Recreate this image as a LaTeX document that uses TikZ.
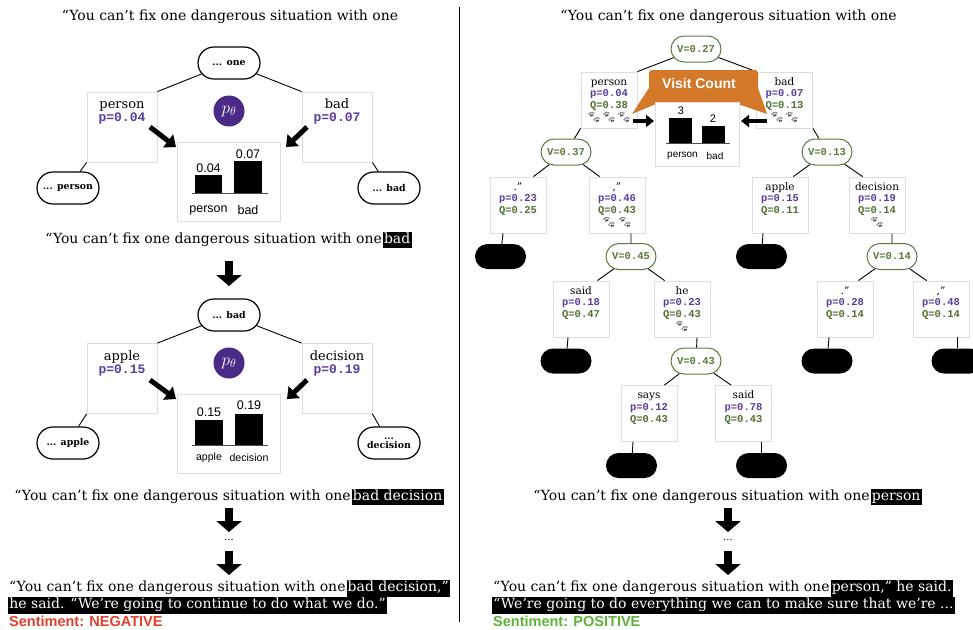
\documentclass[tikz,border=0pt]{standalone}
\usepackage{fontspec}
\setmainfont{DejaVu Serif}
\setsansfont{Liberation Sans}
\setmonofont{Liberation Mono}
\newfontfamily\emojifont{Noto Emoji}
\usetikzlibrary{shapes.misc,arrows.meta,shadows}
\definecolor{pur}{HTML}{5B3B9B}
\definecolor{pcirc}{HTML}{4A2A86}
\definecolor{qgreen}{HTML}{4F7032}
\definecolor{vgreen}{HTML}{5A7A3A}
\definecolor{orng}{HTML}{D4782A}
\definecolor{negred}{HTML}{E0402E}
\definecolor{posgreen}{HTML}{5DB33A}
\newcommand\hlx[1]{{\setlength\fboxsep{1.2pt}\colorbox{black}{\rule[-3.8pt]{0pt}{13.8pt}\color{white}#1}}}
\tikzset{
  card/.style={draw=black!13, fill=white, line width=0.8pt, inner sep=0pt,
    drop shadow={opacity=0.12, shadow xshift=0.8pt, shadow yshift=-0.8pt}},
  bigcard/.style={card, minimum width=70pt, minimum height=70pt},
  smallcard/.style={card, minimum width=56pt, minimum height=56pt},
  chartbox/.style={card},
  pill/.style={rounded rectangle, draw, line width=1.2pt, fill=white, minimum width=64pt,
    minimum height=32pt, inner sep=1pt, align=center, font=\bfseries\fontsize{9.4}{9.6}\selectfont},
  vpill/.style={rounded rectangle, draw=vgreen, text=vgreen, line width=1pt, fill=white,
    minimum width=52pt, minimum height=26pt, inner sep=1pt, font=\ttfamily\bfseries\fontsize{10.5}{12}\selectfont},
  leaf/.style={rounded rectangle, fill=black, minimum width=51pt, minimum height=25pt, inner sep=0pt},
  wordL/.style={anchor=base, inner sep=0pt, font=\fontsize{13}{14}\selectfont},
  pL/.style={anchor=base, inner sep=0pt, text=pur, font=\ttfamily\bfseries\fontsize{13}{14}\selectfont},
  wordS/.style={anchor=base, inner sep=0pt, font=\fontsize{10.5}{12}\selectfont},
  pS/.style={anchor=base, inner sep=0pt, text=pur, font=\ttfamily\bfseries\fontsize{10.5}{12}\selectfont},
  qS/.style={anchor=base, inner sep=0pt, text=qgreen, font=\ttfamily\bfseries\fontsize{10.5}{12}\selectfont},
  pawn/.style={inner sep=0pt, text=black!65, font=\emojifont\fontsize{12}{12}\selectfont},
  edge/.style={line width=0.9pt},
  fatarrow/.style={line width=5pt, -{Triangle[width=16pt,length=10pt]}},
  sidearrow/.style={line width=4pt, -{Triangle[width=12pt,length=8pt]}},
  downarrow/.style={line width=7.5pt, -{Triangle[width=25pt,length=11pt]}},
  title/.style={inner sep=0pt, font=\fontsize{14}{16}\selectfont},
  bar/.style={fill=black, inner sep=0pt},
  chl/.style={inner sep=0pt, font=\sffamily\fontsize{12.5}{14}\selectfont},
  pth/.style={circle, fill=pcirc, minimum size=31pt, inner sep=0pt, text=white, font=\fontsize{17}{17}\selectfont},
}
\newcommand\bigcard[4]{%
  \node[bigcard] (#1) at (#2) {};
  \node[wordL] (#1w) at ([yshift=-17pt]#1.north) {#3};
  \node[pL] (#1p) at ([yshift=-30pt]#1.north) {p=#4};
}
\newcommand\smallcard[5]{%
  \node[smallcard] (#1) at (#2) {};
  \node[wordS] (#1w) at ([yshift=-13.5pt]#1.north) {#3};
  \node[pS] (#1p) at ([yshift=-25pt]#1.north) {p=#4};
  \node[qS] (#1q) at ([yshift=-37pt]#1.north) {Q=#5};
}
\begin{document}
\begin{tikzpicture}[x=1pt,y=-1pt]
\useasboundingbox (0,0) rectangle (973,629);
\fill[white] (0,0) rectangle (973,629);

% ================= LEFT PANEL =================
\node[title] (t1) at (230,17) {“You can’t fix one dangerous situation with one};
\node[pill] (r1) at (229,63) {... one};
\bigcard{lc1}{122,127}{person}{0.04}
\bigcard{rc1}{337,127}{bad}{0.07}
\node[pill] (lf1) at (68,188) {... person};
\node[pill] (lf2) at (389,188) {... bad};
\draw[edge] (lc1.north east) -- (r1);
\draw[edge] (rc1.north west) -- (r1);
\draw[edge] (lc1.south west) -- (lf1);
\draw[edge] (rc1.south east) -- (lf2);
\node[pth] (pt1) at (229,111) {$p_\theta$};
\node[chartbox, minimum width=103pt, minimum height=79pt] (ch1) at (228.5,181.5) {};
\node[bar, minimum width=27pt, minimum height=18pt] (b11) at (208.5,184) {};
\node[bar, minimum width=28pt, minimum height=32pt] (b12) at (248,177) {};
\coordinate (bl1a) at (192,193.3); \coordinate (bl1b) at (268,193.3);
\draw[line width=0.6pt, black!70] (bl1a) -- (bl1b);
\node[chl] (v11) at (208.5,168) {0.04};
\node[chl] (v12) at (248,154) {0.07};
\node[chl] (c11) at (208.5,210) {person};
\node[chl] (c12) at (248,210) {bad};
\coordinate (fa1s) at (150,127); \coordinate (fa1e) at (176,147);
\draw[fatarrow] (fa1s) -- (fa1e);
\coordinate (fa2s) at (307,127); \coordinate (fa2e) at (286,147);
\draw[fatarrow] (fa2s) -- (fa2e);

\node[title] (t2) at (228.5,240) {“You can’t fix one dangerous situation with one\kern1pt\hlx{bad}};
\coordinate (da1s) at (229,261); \coordinate (da1e) at (229,286);
\draw[downarrow] (da1s) -- (da1e);

\node[pill] (r2) at (229,315) {... bad};
\bigcard{lc2}{122,378.5}{apple}{0.15}
\bigcard{rc2}{337,378.5}{decision}{0.19}
\node[pill] (lf3) at (68,443) {... apple};
\node[pill] (lf4) at (389,443) {...\\[-1pt]decision};
\draw[edge] (lc2.north east) -- (r2);
\draw[edge] (rc2.north west) -- (r2);
\draw[edge] (lc2.south west) -- (lf3);
\draw[edge] (rc2.south east) -- (lf4);
\node[pth] (pt2) at (229,363) {$p_\theta$};
\node[chartbox, minimum width=103pt, minimum height=79pt] (ch2) at (228.5,433.5) {};
\node[bar, minimum width=28pt, minimum height=25pt] (b21) at (209,432.5) {};
\node[bar, minimum width=28pt, minimum height=31pt] (b22) at (249,429.5) {};
\coordinate (bl2a) at (192,445.3); \coordinate (bl2b) at (268,445.3);
\draw[line width=0.6pt, black!70] (bl2a) -- (bl2b);
\node[chl] (v21) at (209,412) {0.15};
\node[chl] (v22) at (249,405) {0.19};
\node[chl, font=\sffamily\fontsize{10.6}{12}\selectfont] (c21) at (209,458) {apple};
\node[chl, font=\sffamily\fontsize{10.6}{12}\selectfont] (c22) at (249,458) {decision};
\coordinate (fa3s) at (150,380); \coordinate (fa3e) at (176,399);
\draw[fatarrow] (fa3s) -- (fa3e);
\coordinate (fa4s) at (307,380); \coordinate (fa4e) at (287,399);
\draw[fatarrow] (fa4s) -- (fa4e);

\node[title] (t3) at (229,497) {“You can’t fix one dangerous situation with one\kern1pt\hlx{bad decision}};
\coordinate (da2s) at (229,508); \coordinate (da2e) at (229,532);
\draw[downarrow] (da2s) -- (da2e);
\node[inner sep=0pt, font=\fontsize{10}{10}\selectfont] (dots1) at (229,540) {...};
\coordinate (da3s) at (229,551); \coordinate (da3e) at (229,575);
\draw[downarrow] (da3s) -- (da3e);
\node[title, anchor=base west] (f1) at (9,591.5) {“You can’t fix one dangerous situation with one\kern1pt\hlx{bad decision,”}};
\node[title, anchor=base west] (f2) at (8,608.5) {\hlx{he said. “We’re going to continue to do what we do.”}};
\node[anchor=base west, inner sep=0pt, text=negred, font=\sffamily\bfseries\fontsize{14.5}{16}\selectfont] (s1) at (9,626) {Sentiment: NEGATIVE};

% divider
\draw[line width=1pt] (459,7) -- (459,622);

% ================= RIGHT PANEL =================
\node[title] (t5) at (728.5,17) {“You can’t fix one dangerous situation with one};
\node[vpill] (v027) at (696,49) {V=0.27};
\smallcard{pc}{609,100}{person}{0.04}{0.38}
\smallcard{bc}{784.5,100}{bad}{0.07}{0.13}
\node[pawn] (pw1) at (594,117) {🐾};
\node[pawn] (pw2) at (609,117) {🐾};
\node[pawn] (pw3) at (624,117) {🐾};
\node[pawn] (pw4) at (777,117) {🐾};
\node[pawn] (pw5) at (792,117) {🐾};
\draw[edge] (pc.north east) -- (v027);
\draw[edge] (bc.north west) -- (v027);

% visit count
\fill[orng] (649,88) -- (649,73) arc (180:270:3) -- (755,70) arc (270:360:3) -- (758,88)
  -- (767,114) -- (738,104) -- (656,104) -- (632,114) -- cycle;
\node[inner sep=0pt, text=white, font=\sffamily\bfseries\fontsize{14}{16}\selectfont] (vc) at (699,83) {Visit Count};
\node[chartbox, minimum width=84pt, minimum height=64pt] (ch3) at (697,134) {};
\node[bar, minimum width=23pt, minimum height=25pt] (b31) at (680.5,130.5) {};
\node[bar, minimum width=23pt, minimum height=17pt] (b32) at (713.5,134.5) {};
\coordinate (bl3a) at (666,143.3); \coordinate (bl3b) at (730,143.3);
\draw[line width=0.6pt, black!70] (bl3a) -- (bl3b);
\node[chl, font=\sffamily\fontsize{11}{12}\selectfont] (v31) at (681,111) {3};
\node[chl, font=\sffamily\fontsize{11}{12}\selectfont] (v32) at (713,119) {2};
\node[chl, font=\sffamily\fontsize{10}{12}\selectfont] (c31) at (682.5,156) {person};
\node[chl, font=\sffamily\fontsize{10}{12}\selectfont] (c32) at (715,156) {bad};
\coordinate (sa1s) at (633,121); \coordinate (sa1e) at (654,121);
\draw[sidearrow] (sa1s) -- (sa1e);
\coordinate (sa2s) at (767,121); \coordinate (sa2e) at (741,121);
\draw[sidearrow] (sa2s) -- (sa2e);

% level 2
\node[vpill] (v037) at (566,152) {V=0.37};
\node[vpill] (v013) at (827,152) {V=0.13};
\draw[edge] (pc.south west) -- (v037);
\draw[edge] (bc.south east) -- (v013);
\smallcard{c1}{518,205}{.”}{0.23}{0.25}
\smallcard{c2}{617,205}{,”}{0.46}{0.43}
\smallcard{c3}{780,205}{apple}{0.15}{0.11}
\smallcard{c4}{877,205}{decision}{0.19}{0.14}
\node[pawn] (pw6) at (609,222) {🐾};
\node[pawn] (pw7) at (625,222) {🐾};
\node[pawn] (pw8) at (877,222) {🐾};
\draw[edge] ([xshift=-13pt]c1.north east) -- (v037);
\draw[edge] ([xshift=11pt]c2.north west) -- (v037);
\draw[edge] ([xshift=-15pt]c3.north east) -- (v013);
\draw[edge] ([xshift=14pt]c4.north west) -- (v013);

\node[leaf] (l1) at (500.5,256.5) {};
\node[vpill] (v045) at (631,256.5) {V=0.45};
\node[leaf] (l2) at (761.5,256.5) {};
\node[vpill] (v014) at (892,256.5) {V=0.14};
\draw[edge] ([xshift=-15pt]c1.south) -- (l1);
\draw[edge] ([xshift=14pt]c2.south) -- (v045);
\draw[edge] ([xshift=-17pt]c3.south) -- (l2);
\draw[edge] ([xshift=15pt]c4.south) -- (v014);

\smallcard{c5}{581,309}{said}{0.18}{0.47}
\smallcard{c6}{682,309}{he}{0.23}{0.43}
\smallcard{c7}{845,309}{.”}{0.28}{0.14}
\smallcard{c8}{941,309}{,”}{0.48}{0.14}
\node[pawn] (pw9) at (682,326) {🐾};
\draw[edge] ([xshift=-12pt]c5.north east) -- (v045);
\draw[edge] ([xshift=11pt]c6.north west) -- (v045);
\draw[edge] ([xshift=-15pt]c7.north east) -- (v014);
\draw[edge] ([xshift=14pt]c8.north west) -- (v014);

\node[leaf] (l3) at (566,361) {};
\node[vpill] (v043) at (696,361) {V=0.43};
\node[leaf] (l4) at (827,361) {};
\node[leaf] (l5) at (957,361) {};
\draw[edge] ([xshift=-13pt]c5.south) -- (l3);
\draw[edge] ([xshift=15pt]c6.south) -- (v043);
\draw[edge] ([xshift=-16pt]c7.south) -- (l4);
\draw[edge] ([xshift=16pt]c8.south) -- (l5);

\smallcard{c9}{649,413.5}{says}{0.12}{0.43}
\smallcard{c10}{743.5,413.5}{said}{0.78}{0.43}
\draw[edge] ([xshift=-13pt]c9.north east) -- (v043);
\draw[edge] ([xshift=16pt]c10.north west) -- (v043);
\node[leaf] (l6) at (631.5,465.5) {};
\node[leaf] (l7) at (761.5,465.5) {};
\draw[edge] ([xshift=-16pt]c9.south) -- (l6);
\draw[edge] ([xshift=18pt]c10.south) -- (l7);

\node[title] (t6) at (727.5,497) {“You can’t fix one dangerous situation with one\kern1pt\hlx{person}};
\coordinate (da4s) at (728,508); \coordinate (da4e) at (728,532);
\draw[downarrow] (da4s) -- (da4e);
\node[inner sep=0pt, font=\fontsize{10}{10}\selectfont] (dots2) at (728,540) {...};
\coordinate (da5s) at (728,551); \coordinate (da5e) at (728,575);
\draw[downarrow] (da5s) -- (da5e);
\node[title, anchor=base west] (f3) at (493,591.5) {“You can’t fix one dangerous situation with one\kern1pt\hlx{person,” he said.}};
\node[title, anchor=base west] (f4) at (492,608.5) {\hlx{“We’re going to do everything we can to make sure that we’re ...}};
\node[anchor=base west, inner sep=0pt, text=posgreen, font=\sffamily\bfseries\fontsize{14.5}{16}\selectfont] (s2) at (493,626) {Sentiment: POSITIVE};
\end{tikzpicture}
\end{document}
